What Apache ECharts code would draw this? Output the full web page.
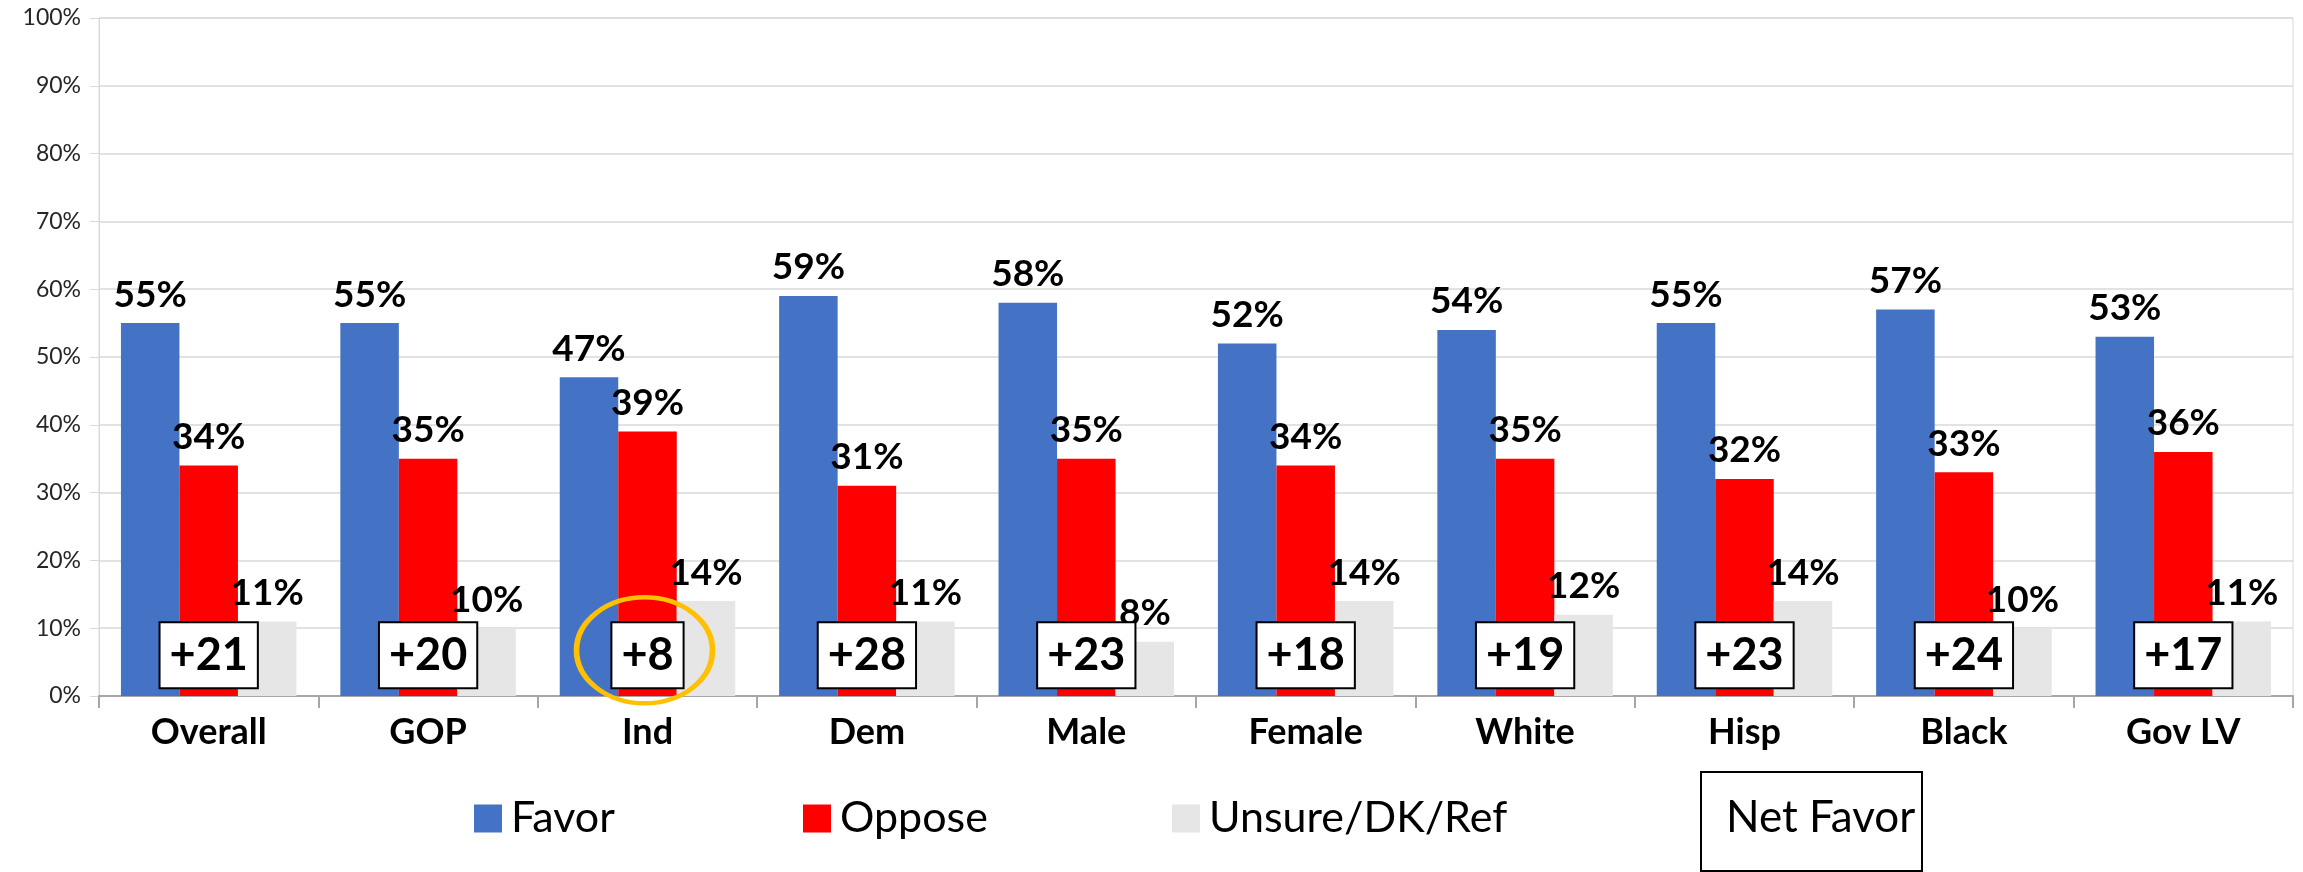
<!DOCTYPE html>
<html>
<head>
<meta charset="utf-8">
<title>Favor / Oppose</title>
<script src="https://cdn.jsdelivr.net/npm/echarts@6/dist/echarts.min.js"></script>
<style>
  html, body { margin: 0; padding: 0; background: #fff; }
  #chart { width: 2303px; height: 872px; }
</style>
</head>
<body>
<div id="chart"></div>
<script>
// data
const categories = ['Overall', 'GOP', 'Ind', 'Dem', 'Male', 'Female', 'White', 'Hisp', 'Black', 'Gov LV']
const favor = [55, 55, 47, 59, 58, 52, 54, 55, 57, 53]
const oppose = [34, 35, 39, 31, 35, 34, 35, 32, 33, 36]
const unsure = [11, 10, 14, 11, 8, 14, 12, 14, 10, 11]
const netFavor = [21, 20, 8, 28, 23, 18, 19, 23, 24, 17]
const yTicks = [0, 10, 20, 30, 40, 50, 60, 70, 80, 90, 100]
const highlightCat = 'Ind'

const FONT = 'Lato, "Open Sans", sans-serif'
const NET_Y = 6 // height (in %) where the net favor boxes sit

const chart = echarts.init(document.getElementById('chart'))

const barLabel = {
  show: true,
  position: 'top',
  distance: 10,
  formatter: '{c}%',
  fontFamily: FONT,
  fontWeight: 'bold',
  fontSize: 37,
  color: '#000'
}

function barSeries (name, data, color) {
  return {
    name: name,
    type: 'bar',
    data: data,
    barGap: 0,
    barCategoryGap: '20%',
    itemStyle: { color: color },
    label: barLabel
  }
}

chart.setOption({
  animation: false,
  grid: {
    top: 18,
    left: 99,
    right: 10,
    bottom: 176,
    show: true,
    borderColor: '#d9d9d9',
    borderWidth: 1
  },
  legend: [
    { data: ['Favor'], left: 469 },
    { data: ['Oppose'], left: 798 },
    { data: ['Unsure/DK/Ref'], left: 1167 }
  ].map(l => Object.assign({
    top: 792,
    itemWidth: 28,
    itemHeight: 28,
    icon: 'rect',
    textStyle: { fontFamily: FONT, fontSize: 43, color: '#000', padding: [0, 0, 0, 4] }
  }, l)),
  xAxis: {
    type: 'category',
    data: categories,
    axisLine: { lineStyle: { color: '#a6a6a6', width: 2 } },
    axisTick: { show: true, length: 12, lineStyle: { color: '#a6a6a6', width: 2 } },
    axisLabel: {
      margin: 18,
      fontFamily: FONT,
      fontWeight: 'bold',
      fontSize: 36,
      color: '#000'
    }
  },
  yAxis: {
    type: 'value',
    min: yTicks[0],
    max: yTicks[yTicks.length - 1],
    interval: 10,
    axisLine: { show: true, lineStyle: { color: '#d9d9d9' } },
    axisTick: { show: true, length: 9, lineStyle: { color: '#d9d9d9' } },
    splitLine: { lineStyle: { color: '#d9d9d9', width: 1.5 } },
    axisLabel: {
      margin: 18,
      formatter: '{value}%',
      fontFamily: FONT,
      fontSize: 23,
      color: '#262626'
    }
  },
  series: [
    barSeries('Favor', favor, '#4472C4'),
    barSeries('Oppose', oppose, '#FF0000'),
    barSeries('Unsure/DK/Ref', unsure, '#E7E6E6'),
    {
      // net favor boxes
      name: 'Net Favor',
      type: 'scatter',
      z: 5,
      symbolSize: 0,
      itemStyle: { opacity: 1 },
      data: netFavor.map(() => NET_Y),
      label: {
        show: true,
        position: 'inside',
        formatter: p => '+' + netFavor[p.dataIndex],
        fontFamily: FONT,
        fontWeight: 'bold',
        fontSize: 45,
        lineHeight: 48,
        color: '#000',
        opacity: 1,
        backgroundColor: '#fff',
        borderColor: '#000',
        borderWidth: 2,
        padding: [9, 9, 7, 9]
      }
    },
    {
      // orange ring around Ind
      type: 'scatter',
      z: 6,
      symbol: 'circle',
      symbolSize: [136, 106],
      symbolOffset: [-3, -5],
      data: categories.map(c => c === highlightCat ? NET_Y : '-'),
      itemStyle: { color: 'rgba(0,0,0,0)', borderColor: '#FFC000', borderWidth: 5, opacity: 1 }
    }
  ],
  graphic: [
    {
      type: 'rect',
      left: 1700,
      top: 771,
      shape: { width: 221, height: 99 },
      style: { fill: '#fff', stroke: '#000', lineWidth: 2 }
    },
    {
      type: 'text',
      left: 1726,
      top: 796,
      style: { text: 'Net Favor', font: '44px ' + FONT, fill: '#000' }
    }
  ]
})
</script>
</body>
</html>
